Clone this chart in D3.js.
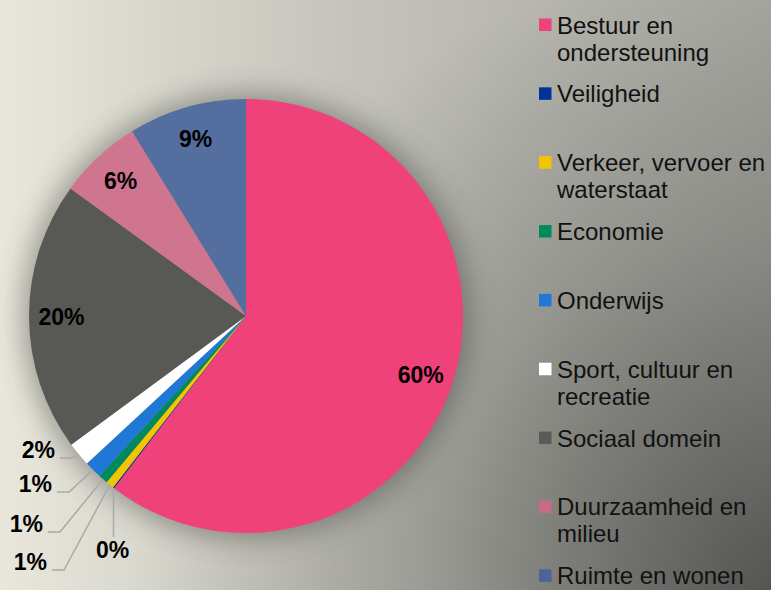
<!DOCTYPE html>
<html>
<head>
<meta charset="utf-8">
<script src="https://cdn.jsdelivr.net/npm/d3@7.9.0/dist/d3.min.js"></script>
<style>
  html, body { margin: 0; padding: 0; }
  svg { display: block; font-family: "Liberation Sans", Arial, sans-serif; }
</style>
</head>
<body>
<svg id="chart" width="771" height="590"></svg>
<script>
// data (percent of total)
const categories = [
  'Bestuur en ondersteuning',
  'Veiligheid',
  'Verkeer, vervoer en waterstaat',
  'Economie',
  'Onderwijs',
  'Sport, cultuur en recreatie',
  'Sociaal domein',
  'Duurzaamheid en milieu',
  'Ruimte en wonen'
];
const shares = [60.4, 0.1, 0.6, 0.7, 1.3, 1.8, 20.1, 6.2, 8.8];
const sliceColors = ['#ef417a', '#003399', '#f2c500', '#008a5c', '#1f78d6', '#ffffff', '#585954', '#cf7590', '#546e9f'];
const swatchColors = ['#ef417a', '#003399', '#f2c500', '#008a5c', '#1f78d6', '#ffffff', '#5a5b56', '#c86a86', '#4b659a'];

// small slices get their label outside, with a leader line
const outsideLabels = {
  'Veiligheid': { dx: -133, dy: 242, below: true },
  'Verkeer, vervoer en waterstaat': { dx: -199, dy: 254 },
  'Economie': { dx: -203, dy: 216 },
  'Onderwijs': { dx: -194, dy: 176 },
  'Sport, cultuur en recreatie': { dx: -191, dy: 142 }
};

const width = 771, height = 590;
const cx = 246, cy = 316, radius = 217;

const svg = d3.select('#chart');
const defs = svg.append('defs');

// background: light on the left, darker towards the bottom right
const bg = defs.append('linearGradient').attr('id', 'bg')
  .attr('x1', 0).attr('y1', 0).attr('x2', 1).attr('y2', 0);
bg.append('stop').attr('offset', '0%').attr('stop-color', '#e9e7dc');
bg.append('stop').attr('offset', '20%').attr('stop-color', '#d8d7cd');
bg.append('stop').attr('offset', '45%').attr('stop-color', '#c4c4bc');
bg.append('stop').attr('offset', '75%').attr('stop-color', '#b4b4ad');
bg.append('stop').attr('offset', '100%').attr('stop-color', '#a9a9a3');

const shade = defs.append('radialGradient').attr('id', 'shade')
  .attr('gradientUnits', 'userSpaceOnUse')
  .attr('cx', width).attr('cy', height).attr('r', 640);
shade.append('stop').attr('offset', '0%').attr('stop-color', '#000').attr('stop-opacity', 0.5);
shade.append('stop').attr('offset', '55%').attr('stop-color', '#000').attr('stop-opacity', 0.18);
shade.append('stop').attr('offset', '100%').attr('stop-color', '#000').attr('stop-opacity', 0);

const blur = defs.append('filter').attr('id', 'glow')
  .attr('x', '-30%').attr('y', '-30%').attr('width', '160%').attr('height', '160%');
blur.append('feGaussianBlur').attr('stdDeviation', 14);

svg.append('rect').attr('width', width).attr('height', height).attr('fill', 'url(#bg)');
svg.append('rect').attr('width', width).attr('height', height).attr('fill', 'url(#shade)');

const g = svg.append('g').attr('transform', `translate(${cx},${cy})`);

// soft shadow around the pie
g.append('circle')
  .attr('r', radius + 6)
  .attr('fill', '#3c3c38')
  .attr('opacity', 0.45)
  .attr('filter', 'url(#glow)');

const data = categories.map((name, i) => ({ name, value: shares[i], color: sliceColors[i] }));

const pie = d3.pie().value(d => d.value).sort(null).startAngle(0).endAngle(2 * Math.PI);
const arcs = pie(data);
const arc = d3.arc().innerRadius(0).outerRadius(radius);
const labelArc = d3.arc().innerRadius(radius * 0.85).outerRadius(radius * 0.85);

g.selectAll('path.slice')
  .data(arcs)
  .join('path')
  .attr('class', 'slice')
  .attr('d', arc)
  .attr('fill', d => d.data.color);

const fmt = v => `${Math.round(v)}%`;

// labels inside the bigger slices
g.selectAll('text.inside')
  .data(arcs.filter(d => !outsideLabels[d.data.name]))
  .join('text')
  .attr('class', 'inside')
  .attr('x', d => labelArc.centroid(d)[0])
  .attr('y', d => labelArc.centroid(d)[1] + 8)
  .attr('text-anchor', 'middle')
  .attr('font-size', 23)
  .attr('font-weight', 'bold')
  .attr('fill', '#000')
  .text(d => fmt(d.data.value));

// labels outside with leader lines
const outside = arcs.filter(d => outsideLabels[d.data.name]);
outside.forEach(d => {
  const pos = outsideLabels[d.data.name];
  const mid = (d.startAngle + d.endAngle) / 2;
  const sx = Math.sin(mid) * radius;
  const sy = -Math.cos(mid) * radius;
  let pts;
  if (pos.below) {
    pts = [[sx, sy], [sx, pos.dy - 21]];
  } else {
    pts = [[sx, sy], [pos.dx + 17, pos.dy], [pos.dx + 5, pos.dy]];
  }
  g.append('path')
    .attr('d', d3.line()(pts))
    .attr('fill', 'none')
    .attr('stroke', '#a9a9a6')
    .attr('stroke-width', 1.5);
  g.append('text')
    .attr('x', pos.below ? sx - 1 : pos.dx)
    .attr('y', pos.dy)
    .attr('text-anchor', pos.below ? 'middle' : 'end')
    .attr('font-size', 23)
    .attr('font-weight', 'bold')
    .attr('fill', '#000')
    .text(fmt(d.data.value));
});

// legend
const legendX = 539, legendTop = 33.5, legendStep = 68.85, maxTextWidth = 213;
const legend = svg.append('g');

categories.forEach((name, i) => {
  const y = legendTop + i * legendStep;
  legend.append('rect')
    .attr('x', legendX).attr('y', y - 15)
    .attr('width', 12.5).attr('height', 12.5)
    .attr('fill', swatchColors[i]);

  const text = legend.append('text')
    .attr('x', legendX + 18).attr('y', y)
    .attr('font-size', 24)
    .attr('fill', '#111');

  // wrap words into lines that fit the legend column
  const words = name.split(' ');
  let line = [];
  let tspan = text.append('tspan').attr('x', legendX + 18).attr('dy', 0);
  words.forEach(w => {
    line.push(w);
    tspan.text(line.join(' '));
    if (tspan.node().getComputedTextLength() > maxTextWidth && line.length > 1) {
      line.pop();
      tspan.text(line.join(' '));
      line = [w];
      tspan = text.append('tspan').attr('x', legendX + 18).attr('dy', 27).text(w);
    }
  });
});
</script>
</body>
</html>
